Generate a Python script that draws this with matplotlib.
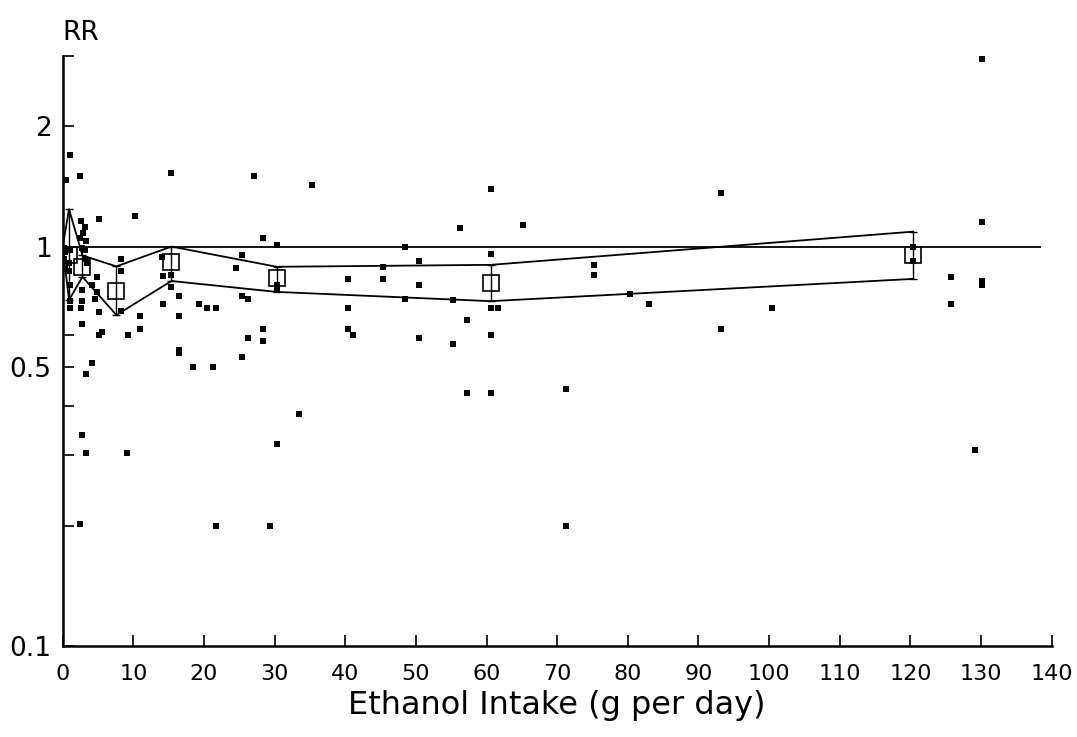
#!/usr/bin/python
#
# Relative risk vs ethanol intake, log scale RR with study points
# and pooled estimates with confidence band
#

from matplotlib import pyplot as plt

# individual study results (g per day, RR)
study_x = [
    0.4, 1.0, 0.2, 0.3, 0.2, 0.9, 0.3, 1.1, 0.9, 1.0, 1.1, 1.0,
    2.4, 2.6, 3.2, 2.9, 2.5, 3.3, 2.7, 3.1, 3.1, 3.4, 2.7, 2.8, 2.6, 2.7,
    3.3, 2.7, 3.3, 2.5,
    5.1, 4.8, 4.1, 4.8, 4.6, 5.1, 5.1, 5.6, 4.1,
    8.3, 8.2, 8.2, 10.9, 10.9, 9.2, 10.2, 9.1,
    15.3, 14.1, 14.2, 15.4, 15.4, 16.4, 14.2, 16.4, 19.3, 20.4, 21.7,
    16.4, 16.4, 18.4, 21.3, 21.7,
    27.1, 28.3, 30.3, 25.4, 24.5, 25.4, 26.2, 26.2, 28.4, 28.4, 25.4,
    35.3, 29.4, 30.3, 33.4, 30.3, 30.3,
    40.4, 40.4, 40.4, 41.1, 45.4, 45.4, 48.5, 48.5, 50.5, 50.5, 50.5,
    55.3, 55.3, 56.2, 57.2, 57.2, 60.6, 60.6, 60.6, 61.6, 60.6, 60.6,
    65.2,
    71.2, 71.2, 75.2, 75.2, 80.3, 83.0, 93.2, 93.2, 100.4,
    120.4, 120.4, 125.8, 125.8, 130.2, 130.2, 130.2, 130.2, 129.2,
]
study_rr = [
    1.47, 1.70, 0.99, 0.97, 0.93, 0.91, 0.88, 0.98, 0.87, 0.80, 0.73, 0.70,
    1.50, 1.16, 1.12, 1.08, 1.05, 1.03, 0.99, 0.98, 0.93, 0.91, 0.78, 0.73,
    0.70, 0.64, 0.48, 0.337, 0.304, 0.202,
    1.17, 0.84, 0.80, 0.77, 0.74, 0.685, 0.60, 0.61, 0.51,
    0.93, 0.87, 0.69, 0.67, 0.62, 0.60, 1.19, 0.304,
    1.53, 0.944, 0.842, 0.85, 0.79, 0.75, 0.72, 0.67, 0.72, 0.70, 0.70,
    0.55, 0.54, 0.50, 0.50, 0.20,
    1.50, 1.05, 1.01, 0.955, 0.886, 0.75, 0.74, 0.59, 0.62, 0.58, 0.53,
    1.43, 0.20, 0.32, 0.38, 0.80, 0.78,
    0.83, 0.70, 0.62, 0.60, 0.89, 0.83, 1.00, 0.74, 0.92, 0.80, 0.59,
    0.735, 0.57, 1.11, 0.655, 0.43, 1.39, 0.96, 0.70, 0.70, 0.60, 0.43,
    1.13,
    0.44, 0.20, 0.90, 0.85, 0.76, 0.72, 1.36, 0.62, 0.70,
    1.00, 0.92, 0.84, 0.72, 2.95, 1.15, 0.82, 0.80, 0.31,
]

# pooled estimates per intake group with confidence limits
group_x = [0, 0.9, 2.8, 7.6, 15.4, 30.3, 60.6, 120.4]
group_rr = [1.0, 0.955, 0.89, 0.773, 0.913, 0.833, 0.81, 0.955]
group_lo = [1.0, 0.735, 0.84, 0.674, 0.82, 0.77, 0.73, 0.83]
group_hi = [1.0, 1.24, 0.95, 0.892, 1.00, 0.89, 0.90, 1.09]

# no-effect reference line
ref_rr = 1.0
ref_end = 138.5

x_ticks = list(range(0, 141, 10))
y_labeled = [0.1, 0.5, 1, 2]
y_labels = ['0.1', '0.5', '1', '2']
y_minor = [0.2, 0.3, 0.4, 0.6, 3]


def main():
    fig = plt.figure(figsize=(10.77, 7.37), dpi=100)
    ax = fig.add_axes([0.0582, 0.1235, 0.9183, 0.8005])

    # log scale for relative risk
    ax.set_yscale('log')
    ax.set_xlim(0, 140)
    ax.set_ylim(0.1, 3)

    # reference line at RR = 1
    ax.hlines(ref_rr, 0, ref_end, colors='black', linewidth=1.3)

    # confidence band and error bars
    ax.plot(group_x, group_hi, color='black', linewidth=1.3)
    ax.plot(group_x, group_lo, color='black', linewidth=1.3)
    ax.errorbar(group_x, group_rr,
                yerr=[[r - lo for r, lo in zip(group_rr, group_lo)],
                      [hi - r for r, hi in zip(group_rr, group_hi)]],
                fmt='none', ecolor='black', elinewidth=1.0, capsize=3)

    # study points
    ax.scatter(study_x, study_rr, marker='s', s=22, color='black',
               linewidths=0, zorder=3)

    # pooled estimates as open squares
    ax.plot(group_x[1:], group_rr[1:], linestyle='none', marker='s',
            markersize=11.5, markerfacecolor='none', markeredgecolor='black',
            markeredgewidth=1.2, zorder=4)

    # axes styling
    for side in ['top', 'right']:
        ax.spines[side].set_visible(False)
    for side in ['left', 'bottom']:
        ax.spines[side].set_linewidth(1.8)

    ax.set_xticks(x_ticks)
    ax.set_xticklabels([str(t) for t in x_ticks])
    ax.set_yticks(y_labeled)
    ax.set_yticklabels(y_labels)
    ax.set_yticks(y_minor, minor=True)
    ax.yaxis.set_minor_formatter(plt.NullFormatter())

    ax.tick_params(axis='x', direction='in', length=8, width=1.2,
                   labelsize=16, pad=13)
    ax.tick_params(axis='y', which='both', direction='in', length=8,
                   width=1.2, labelsize=19, pad=8)

    ax.set_xlabel('Ethanol Intake (g per day)', fontsize=23, labelpad=4)
    fig.text(0.058, 0.955, 'RR', fontsize=19, va='center', ha='left')

    fig.savefig('out.png', dpi=100)


if __name__ == '__main__':
    main()
